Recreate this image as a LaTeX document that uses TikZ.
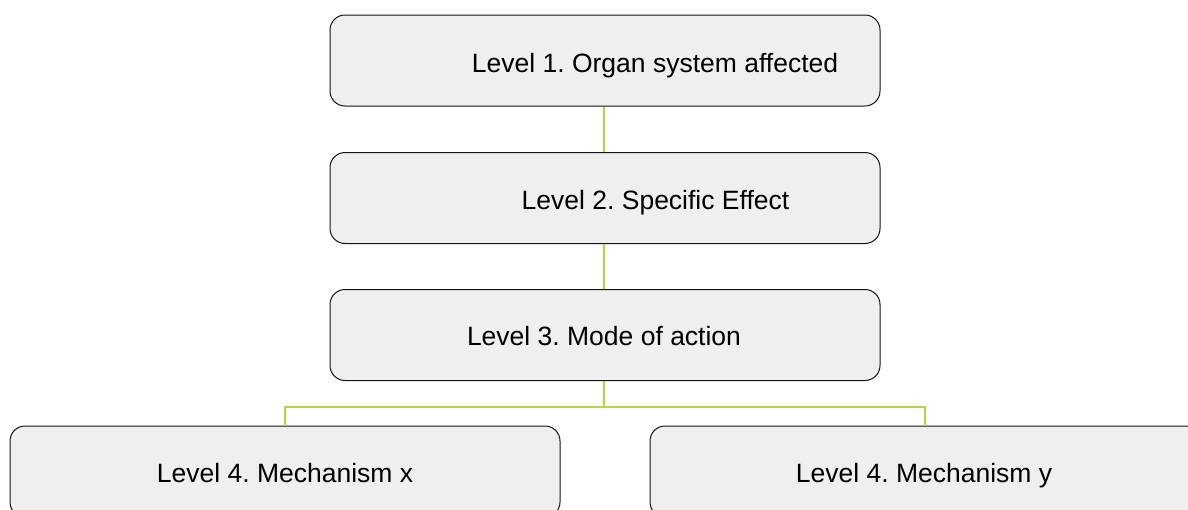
\documentclass[tikz,border=0pt]{standalone}
\usepackage{fontspec}
\setmainfont{Liberation Sans}
\definecolor{boxfill}{RGB}{239,239,239}
\definecolor{boxline}{RGB}{20,20,20}
\definecolor{linkgreen}{RGB}{176,216,70}
\begin{document}
\frenchspacing
\begin{tikzpicture}[x=1pt,y=1pt,
  levelbox/.style={draw=boxline,fill=boxfill,line width=1pt,rounded corners=15pt,
    minimum width=550pt,minimum height=91pt,inner sep=0pt},
  leveltext/.style={font=\fontsize{26.5}{30}\selectfont,inner sep=0pt,text=black,anchor=base},
  link/.style={draw=linkgreen,line width=1.2pt}]
\useasboundingbox (0,0) rectangle (1188,-509);
\clip (0,0) rectangle (1188,-509);
\node[levelbox] (b1) at (605,-60.5) {};
\node[levelbox] (b2) at (605,-198) {};
\node[levelbox] (b3) at (605,-335) {};
\node[levelbox] (b4) at (285,-471.5) {};
\node[levelbox] (b5) at (925,-471.5) {};
\node[leveltext] (t1) at (655,-72) {Level 1. Organ system affected};
\node[leveltext] (t2) at (655.5,-209.3) {Level 2. Specific Effect};
\node[leveltext] (t3) at (604,-345.7) {Level 3. Mode of action};
\node[leveltext] (t4) at (285,-482.5) {Level 4. Mechanism x};
\node[leveltext] (t5) at (924,-482.5) {Level 4. Mechanism y};
\coordinate (split) at (604,-407);
\draw[link] (b1.south -| split) -- (b2.north -| split);
\draw[link] (b2.south -| split) -- (b3.north -| split);
\draw[link] (b3.south -| split) -- (split);
\draw[link] (split) -| (b4.north);
\draw[link] (split) -| (b5.north);
\end{tikzpicture}
\end{document}
